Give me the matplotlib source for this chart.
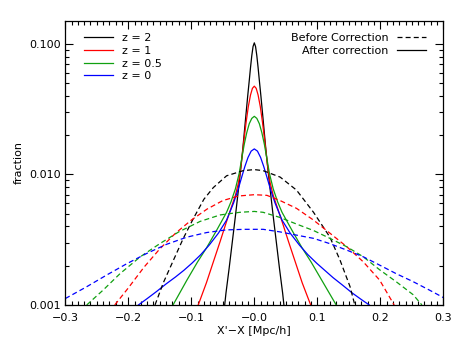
import numpy as np
import matplotlib
matplotlib.use('Agg')
import matplotlib.pyplot as plt
from matplotlib.lines import Line2D
from matplotlib.ticker import FixedLocator, FixedFormatter, MultipleLocator, NullFormatter

# after correction (solid lines)
x_z2 = [-0.047, -0.045, -0.040, -0.035, -0.030, -0.026, -0.022, -0.018, -0.014, -0.0105, -0.008, -0.006, -0.004, -0.002, 0.0,
        0.002, 0.004, 0.006, 0.008, 0.0105, 0.014, 0.018, 0.022, 0.026, 0.030, 0.035, 0.040, 0.045, 0.047]
f_z2 = [0.001, 0.00123, 0.0019, 0.00302, 0.00479, 0.00708, 0.0105, 0.0162, 0.0263, 0.0398, 0.0525, 0.0661, 0.0813, 0.0955, 0.102,
        0.0955, 0.0813, 0.0661, 0.0525, 0.0398, 0.0263, 0.0162, 0.0105, 0.00708, 0.00479, 0.00302, 0.0019, 0.00123, 0.001]

x_z1 = [-0.089, -0.076, -0.065, -0.054, -0.044, -0.037, -0.030, -0.025, -0.021, -0.017, -0.013, -0.0095, -0.006, -0.003, 0.0,
        0.003, 0.006, 0.0095, 0.013, 0.017, 0.021, 0.025, 0.030, 0.037, 0.044, 0.054, 0.065, 0.076, 0.0895]
f_z1 = [0.001, 0.00148, 0.00214, 0.00309, 0.00437, 0.0055, 0.00692, 0.0087, 0.0117, 0.0174, 0.0251, 0.0331, 0.0407, 0.0457, 0.0475,
        0.0457, 0.0407, 0.0331, 0.0251, 0.0174, 0.0117, 0.0087, 0.00692, 0.0055, 0.00437, 0.00309, 0.00214, 0.00148, 0.001]

x_z05 = [-0.129, -0.107, -0.090, -0.0756, -0.060, -0.044, -0.037, -0.030, -0.024, -0.020, -0.016, -0.012, -0.008, -0.004, 0.0,
         0.004, 0.008, 0.012, 0.016, 0.020, 0.024, 0.030, 0.037, 0.044, 0.060, 0.0756, 0.090, 0.107, 0.130]
f_z05 = [0.001, 0.00155, 0.00214, 0.00275, 0.00372, 0.00513, 0.00617, 0.00776, 0.0102, 0.0132, 0.017, 0.0209, 0.0245, 0.0269, 0.0279,
         0.0269, 0.0245, 0.0209, 0.017, 0.0132, 0.0102, 0.00776, 0.00617, 0.00513, 0.00372, 0.00275, 0.00214, 0.00155, 0.001]

x_z0 = [-0.184, -0.170, -0.155, -0.140, -0.125, -0.112, -0.099, -0.085, -0.0715, -0.057, -0.044, -0.033, -0.026, -0.020,
        -0.015, -0.010, -0.005, 0.0, 0.005, 0.010, 0.015, 0.020, 0.026, 0.033, 0.044, 0.057, 0.0715, 0.085, 0.099, 0.112,
        0.125, 0.140, 0.155, 0.170, 0.1825]
f_z0 = [0.001, 0.00112, 0.00127, 0.00145, 0.00164, 0.00184, 0.00209, 0.00243, 0.00288, 0.00355, 0.00447, 0.00603, 0.00759, 0.00955,
        0.0115, 0.0135, 0.0151, 0.0157, 0.0151, 0.0135, 0.0115, 0.00955, 0.00759, 0.00603, 0.00447, 0.00355, 0.00288, 0.00243,
        0.00209, 0.00184, 0.00162, 0.00142, 0.00124, 0.0011, 0.001]

# before correction (dashed lines)
xb_z2 = [-0.1576, -0.1444, -0.1286, -0.1127, -0.0968, -0.080, -0.065, -0.044, -0.0175, 0.0,
         0.014, 0.041, 0.067, 0.094, 0.120, 0.136, 0.152, 0.1595]
fb_z2 = [0.001, 0.00148, 0.00219, 0.00324, 0.00459, 0.00646, 0.00794, 0.00977, 0.0107, 0.0109,
         0.0107, 0.00955, 0.00759, 0.00513, 0.00331, 0.00221, 0.00138, 0.001]

xb_z1 = [-0.2215, -0.200, -0.175, -0.150, -0.125, -0.100, -0.075, -0.050, -0.025, 0.0,
         0.020, 0.041, 0.067, 0.094, 0.120, 0.147, 0.173, 0.199, 0.222]
fb_z1 = [0.001, 0.00135, 0.00195, 0.00269, 0.00355, 0.00447, 0.00543, 0.00631, 0.00684, 0.007,
         0.00692, 0.00631, 0.0055, 0.00447, 0.00355, 0.00279, 0.00214, 0.00155, 0.001]

xb_z05 = [-0.266, -0.240, -0.213, -0.181, -0.150, -0.120, -0.086, -0.054, -0.023, 0.0,
          0.014, 0.041, 0.067, 0.094, 0.120, 0.147, 0.173, 0.199, 0.225, 0.252, 0.266]
fb_z05 = [0.001, 0.0013, 0.00174, 0.00234, 0.00295, 0.00363, 0.00437, 0.0049, 0.00513, 0.00521,
          0.00513, 0.00468, 0.00417, 0.00372, 0.00324, 0.00279, 0.00234, 0.00186, 0.00151, 0.0012, 0.001]

xb_z0 = [-0.300, -0.266, -0.234, -0.2025, -0.171, -0.139, -0.107, -0.0756, -0.045, -0.015,
         0.014, 0.041, 0.067, 0.094, 0.120, 0.147, 0.173, 0.199, 0.225, 0.252, 0.278, 0.300]
fb_z0 = [0.00112, 0.00138, 0.0017, 0.00207, 0.00248, 0.00292, 0.00331, 0.00359, 0.00376, 0.0038,
         0.0038, 0.00363, 0.00343, 0.00324, 0.00295, 0.00263, 0.00234, 0.00202, 0.00174, 0.00151, 0.0013, 0.00114]

labels = ['z = 2', 'z = 1', 'z = 0.5', 'z = 0']
colors = ['black', '#ff0000', '#10a010', '#0000ff']

xticks = [-0.3, -0.2, -0.1, 0.0, 0.1, 0.2, 0.3]
xticklabels = ['\u22120.3', '\u22120.2', '\u22120.1', '\u22120.0', '0.1', '0.2', '0.3']
yticks = [0.001, 0.01, 0.1]
yticklabels = ['0.001', '0.010', '0.100']

plt.rcParams['font.family'] = 'DejaVu Sans'
plt.rcParams['font.size'] = 8

fig = plt.figure(figsize=(4.63, 3.48), dpi=100)
ax = fig.add_axes([0.141, 0.1236, 0.8165, 0.8161])

after = [(x_z2, f_z2), (x_z1, f_z1), (x_z05, f_z05), (x_z0, f_z0)]
before = [(xb_z2, fb_z2), (xb_z1, fb_z1), (xb_z05, fb_z05), (xb_z0, fb_z0)]

handles = []
for (xs, fs), c, lab in zip(after, colors, labels):
    h, = ax.plot(xs, fs, color=c, lw=0.9, label=lab)
    handles.append(h)
for (xs, fs), c in zip(before, colors):
    ax.plot(xs, fs, color=c, lw=0.9, ls=(0, (4, 2.5)))

ax.set_yscale('log')
ax.set_xlim(-0.3, 0.3)
ax.set_ylim(0.001, 0.15)

ax.xaxis.set_major_locator(FixedLocator(xticks))
ax.xaxis.set_major_formatter(FixedFormatter(xticklabels))
ax.xaxis.set_minor_locator(MultipleLocator(0.01))
ax.yaxis.set_major_locator(FixedLocator(yticks))
ax.yaxis.set_major_formatter(FixedFormatter(yticklabels))
ax.yaxis.set_minor_formatter(NullFormatter())

ax.tick_params(which='both', direction='in', top=True, right=True, width=0.8, colors='black')
ax.tick_params(which='major', length=6)
ax.tick_params(which='minor', length=3)
ax.tick_params(axis='x', pad=6)
ax.tick_params(axis='y', pad=3)
for s in ax.spines.values():
    s.set_linewidth(0.9)

ax.set_xlabel("X'\u2212X [Mpc/h]", labelpad=2)
ax.set_ylabel('fraction', labelpad=4)

leg1 = ax.legend(handles=handles, loc='upper left', bbox_to_anchor=(0.03, 0.985),
                 frameon=False, handlelength=2.6, handletextpad=0.8, labelspacing=0.25,
                 borderaxespad=0.3)
ax.add_artist(leg1)

style_handles = [Line2D([], [], color='black', lw=0.9, ls=(0, (4, 2.5))),
                 Line2D([], [], color='black', lw=0.9)]
ax.legend(style_handles, ['Before Correction', 'After correction'], loc='upper right',
          bbox_to_anchor=(0.975, 0.985), frameon=False, markerfirst=False,
          handlelength=2.6, handletextpad=0.8, labelspacing=0.25, borderaxespad=0.3)

fig.savefig('out.png', dpi=100)
